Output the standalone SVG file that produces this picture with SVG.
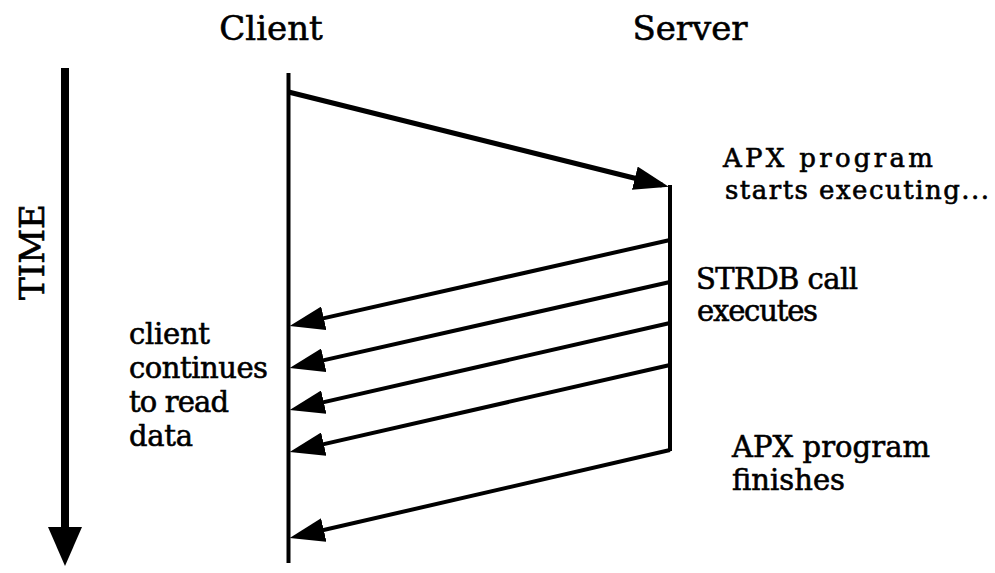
<svg xmlns="http://www.w3.org/2000/svg" width="995" height="573" viewBox="0 0 995 573">
<style>
text{font-family:"DejaVu Serif","Liberation Serif",serif;fill:#000;stroke:#000;stroke-width:0.6}
.h{font-size:34px}
.l{font-size:29px}
.s{font-size:26px}
.ln{stroke:#000;fill:none}
</style>
<defs>
<marker id="ah" markerUnits="userSpaceOnUse" markerWidth="36" markerHeight="24" refX="28" refY="12" orient="auto" viewBox="0 0 36 24">
<path d="M0,0 L35,12 L0,24 z" fill="#000"/>
</marker>
</defs>
<rect width="995" height="573" fill="#fff"/>
<g id="time">
<line class="ln" x1="65" y1="68" x2="65" y2="530" stroke-width="8"/>
<path d="M48,527 L82,527 L65,566 z" fill="#000"/>
<text class="h" transform="translate(44,252) rotate(-90)" text-anchor="middle" font-size="31">TIME</text>
</g>
<g id="client">
<text class="h" x="271" y="40" text-anchor="middle">Client</text>
<line class="ln" x1="288.5" y1="73" x2="288.5" y2="563" stroke-width="4"/>
</g>
<g id="server">
<text class="h" x="690" y="40" text-anchor="middle">Server</text>
<line class="ln" x1="670" y1="185" x2="670" y2="451" stroke-width="4"/>
</g>
<g id="labels">
<text class="s" x="723" y="167" textLength="210" lengthAdjust="spacing">APX  program</text>
<text class="s" x="725" y="199" textLength="264" lengthAdjust="spacing">starts executing...</text>
<text class="l" x="696" y="289" textLength="162" lengthAdjust="spacing">STRDB call</text>
<text class="l" x="697" y="321" textLength="121" lengthAdjust="spacing">executes</text>
<text class="l" x="129" y="344" textLength="81" lengthAdjust="spacing">client</text>
<text class="l" x="129" y="378" textLength="139" lengthAdjust="spacing">continues</text>
<text class="l" x="129" y="412" textLength="100" lengthAdjust="spacing">to read</text>
<text class="l" x="129" y="446" textLength="64" lengthAdjust="spacing">data</text>
<text class="l" x="732" y="457" textLength="198" lengthAdjust="spacing">APX program</text>
<text class="l" x="732" y="490" textLength="113" lengthAdjust="spacing">finishes</text>
</g>
<g id="connectors">
<line class="ln" x1="288.5" y1="92" x2="662" y2="185" stroke-width="5" marker-end="url(#ah)"/>
<line class="ln" x1="670" y1="240" x2="296.5" y2="324.4" stroke-width="4" marker-end="url(#ah)"/>
<line class="ln" x1="670" y1="282" x2="296.5" y2="366.4" stroke-width="4" marker-end="url(#ah)"/>
<line class="ln" x1="670" y1="323" x2="296.5" y2="408.4" stroke-width="4" marker-end="url(#ah)"/>
<line class="ln" x1="670" y1="365" x2="296.5" y2="450.4" stroke-width="4" marker-end="url(#ah)"/>
<line class="ln" x1="670" y1="450" x2="296.5" y2="536.3" stroke-width="4" marker-end="url(#ah)"/>
</g>
</svg>
